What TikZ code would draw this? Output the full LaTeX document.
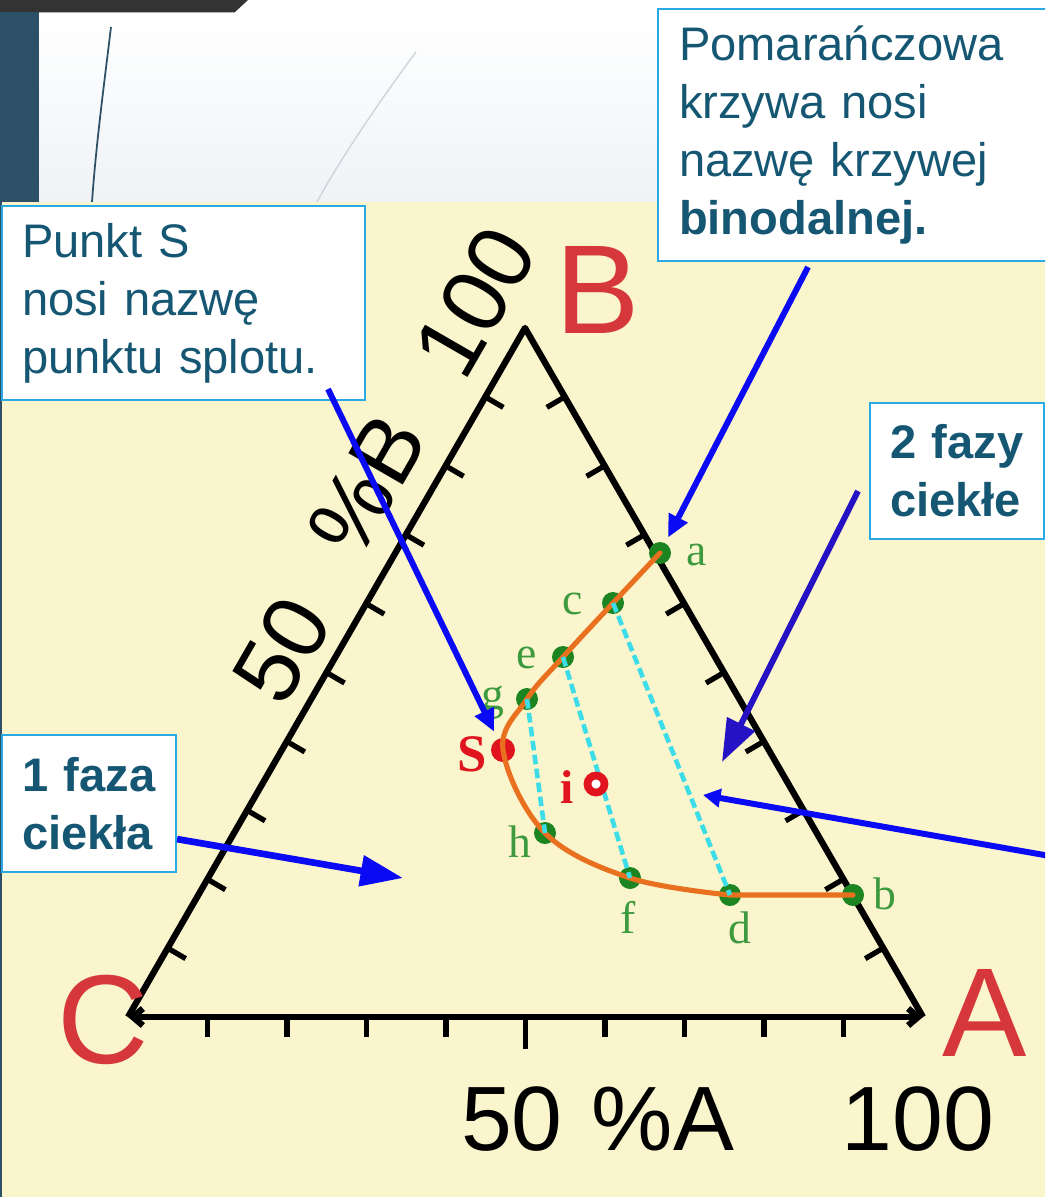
\documentclass[tikz,border=0pt]{standalone}
\usepackage{fontspec}
\setmainfont{Liberation Sans}
\newfontfamily\labelserif{Liberation Serif}
\usepackage{xcolor}
\definecolor{slidedark}{HTML}{333333}
\definecolor{slideblue}{HTML}{2C5066}
\definecolor{slidegray}{HTML}{EFF3F6}
\definecolor{slideline}{HTML}{CDD5DC}
\definecolor{paper}{HTML}{FAF5CC}
\definecolor{boxborder}{HTML}{29AAE2}
\definecolor{boxtext}{HTML}{155773}
\definecolor{cornerred}{HTML}{D6373B}
\definecolor{ptgreen}{HTML}{1C8420}
\definecolor{lblgreen}{HTML}{3E9A3E}
\definecolor{ptred}{HTML}{E0141E}
\definecolor{curvecolor}{HTML}{E8701E}
\definecolor{tiecolor}{HTML}{3CDDE8}
\definecolor{arrowblue}{HTML}{0A0AF5}
\definecolor{arrownavy}{HTML}{2412C4}
\usepackage{tikz}
\usetikzlibrary{positioning,arrows.meta,calc}
\tikzset{
    infobox/.style={
        rectangle,
        draw=boxborder,
        fill=white,
        text=boxtext,
        line width=1.2pt,
        align=left,
        inner xsep=0.4cm,
        inner ysep=0pt,
        anchor=north west,
        font=\fontsize{26.8}{33}\selectfont,
    },
    boldbox/.style={
        infobox,
        font=\fontsize{26.8}{33}\selectfont\bfseries,
    },
    axisline/.style={
        line width=3.6pt,
        line join=round,
        black,
    },
    tickmark/.style={
        line width=3pt,
        black,
    },
    axislabel/.style={
        font=\fontsize{52}{52}\selectfont,
        inner sep=0pt,
    },
    corner/.style={
        font=\fontsize{72}{72}\selectfont,
        text=cornerred,
        inner sep=0pt,
    },
    gdot/.style={
        circle,
        fill=ptgreen,
        inner sep=0pt,
        minimum size=0.44cm,
    },
    sdot/.style={
        circle,
        fill=ptred,
        inner sep=0pt,
        minimum size=0.48cm,
    },
    idot/.style={
        circle,
        draw=ptred,
        fill=white,
        line width=4.4pt,
        inner sep=0pt,
        minimum size=0.34cm,
    },
    ptlabel/.style={
        font=\labelserif\fontsize{26}{26}\selectfont,
        text=lblgreen,
        inner sep=0pt,
    },
    redlabel/.style={
        font=\labelserif\bfseries\fontsize{30}{30}\selectfont,
        text=ptred,
        inner sep=0pt,
    },
    binodal/.style={
        line width=2.9pt,
        curvecolor,
        line cap=round,
    },
    tieline/.style={
        line width=2.6pt,
        tiecolor,
        dash pattern=on 5.5pt off 2.5pt,
    },
    pointer/.style={
        -{Triangle[length=0.45cm,width=0.4cm]},
        line width=3.4pt,
        arrowblue,
    },
    bigtip/.style={
        -{Triangle[length=0.85cm,width=0.6cm]},
    },
    smalltip/.style={
        -{Triangle[length=0.35cm,width=0.36cm]},
    },
}

\begin{document}
\begin{tikzpicture}[x=0.02cm, y=-0.02cm]
    \useasboundingbox (0,0) rectangle (1045,1197);
    \clip (0,0) rectangle (1045,1197);

    % Slide background
    \fill[white] (0,0) rectangle (1045,202);
    \shade[top color=white, bottom color=slidegray] (39,12) rectangle (1045,202);
    \fill[slidedark] (0,0) -- (248,0) -- (235,12) -- (0,12) -- cycle;
    \draw[gray!60, line width=0.6pt] (39,12.5) -- (235,12.5);
    \fill[slideblue] (0,12) rectangle (39,202);
    \fill[slideblue] (0,202) rectangle (2,1197);
    \draw[slideblue, line width=1pt] (111,27) .. controls (104,85) and (96,145) .. (92,202);
    \draw[slideline, line width=0.8pt] (416,52) .. controls (395,80) and (345,150) .. (317,202);

    % Diagram paper
    \fill[paper] (2,202) rectangle (1045,1197);

    % Triangle
    \coordinate (vC) at (128,1017);
    \coordinate (vA) at (923,1017);
    \coordinate (vB) at (525,328);
    \foreach \k in {1,...,9} {
        \pgfmathsetmacro\ticklen{\k==5 ? 32 : 20}
        \draw[tickmark] ($(vC)!\k/10!(vA)$) -- ++(0,\ticklen);
        \draw[tickmark] ($(vC)!\k/10!(vB)$) -- ++(18,10.5);
        \draw[tickmark] ($(vA)!\k/10!(vB)$) -- ++(-18,10.5);
    }
    \draw[axisline] (vC) -- (vB) -- (vA);
    \draw[axisline, {Straight Barb[length=0.2cm,width=0.34cm]}-{Straight Barb[length=0.2cm,width=0.34cm]}] (vC) -- (vA);

    % Axis labels
    \node[axislabel, anchor=base] (a50) at (512,1150) {50};
    \node[axislabel, anchor=base] (apct) at (663,1150) {\%A};
    \node[axislabel, anchor=base] (a100) at (918,1150) {100};
    \node[axislabel, rotate=60] (b50) at (282,650) {50};
    \node[axislabel, rotate=60] (bpct) at (367,485) {\%B};
    \node[axislabel, rotate=60] (b100) at (475,302) {100};

    % Corner letters
    \node[corner] (lblB) at (598,290) {B};
    \node[corner] (lblC) at (103,1020) {C};
    \node[corner] (lblA) at (985,1013) {A};

    % Points on the binodal curve
    \node[gdot] (pa) at (660,553) {};
    \node[gdot] (pc) at (613,603) {};
    \node[gdot] (pe) at (563,657) {};
    \node[gdot] (pg) at (527,699) {};
    \node[sdot] (pS) at (503,750) {};
    \node[gdot] (ph) at (545,833) {};
    \node[gdot] (pf) at (630,878) {};
    \node[gdot] (pd) at (730,895) {};
    \node[gdot] (pb) at (853,895) {};

    % Binodal curve and tie lines
    \draw[binodal] plot[smooth, tension=0.6] coordinates {(pa.center) (pc.center) (pe.center) (pg.center) (pS.center) (ph.center) (pf.center) (pd.center)} -- (pb.center);
    \draw[tieline] (pg.center) -- (ph.center);
    \draw[tieline] (pe.center) -- (pf.center);
    \draw[tieline] (pc.center) -- (pd.center);
    \node[idot] (pi) at (596,784) {};

    % Point labels
    \node[ptlabel] (la) at (697,555) {a};
    \node[ptlabel] (lc) at (573,604) {c};
    \node[ptlabel] (le) at (527,658) {e};
    \node[ptlabel] (lg) at (493,703) {g};
    \node[ptlabel] (lh) at (520,842) {h};
    \node[ptlabel] (lf) at (628,917) {f};
    \node[ptlabel] (ld) at (740,928) {d};
    \node[ptlabel] (lb) at (885,894) {b};
    \node[redlabel] (lS) at (472,754) {S};
    \node[redlabel, font=\labelserif\bfseries\fontsize{27}{27}\selectfont] (li) at (567,787) {i};

    % Text boxes
    \node[infobox, minimum width=7.26cm, minimum height=3.88cm, text width=6.46cm] (punkt) at (1,205) {Punkt S\\nosi nazwę\\punktu splotu.};
    \node[infobox, minimum width=7.96cm, minimum height=5.04cm, text width=7.16cm, inner xsep=0.42cm] (pomar) at (657,8) {Pomarańczowa\\krzywa nosi\\nazwę krzywej\\\textbf{binodalnej.}};
    \node[boldbox, minimum width=3.48cm, minimum height=2.74cm, text width=2.68cm] (faza1) at (1,734) {1 faza\\ciekła};
    \node[boldbox, minimum width=3.48cm, minimum height=2.72cm, text width=2.68cm] (faza2) at (869,402) {2 fazy\\ciekłe};

    % Pointers
    \coordinate (pomarout) at ($(pomar.south west)+(151,5)$);
    \coordinate (punktout) at ($(punkt.south east)+(-38,-12)$);
    \coordinate (faza1out) at ($(faza1.south east)+(0,-34)$);
    \coordinate (onetip) at (403,878);
    \coordinate (faza2out) at ($(faza2.west)+(-11,20)$);
    \coordinate (twotip) at (722,762);
    \coordinate (tieout) at (1050,856);
    \coordinate (tietip) at (703,795);
    \draw[pointer, shorten >=0.12cm] (pomarout) -- (pa);
    \draw[pointer, shorten >=0.16cm] (punktout) -- (pS);
    \draw[pointer, bigtip, line width=3.8pt] (faza1out) -- (onetip);
    \draw[pointer, bigtip, arrownavy] (faza2out) -- (twotip);
    \draw[pointer, smalltip] (tieout) -- (tietip);

\end{tikzpicture}
\end{document}
